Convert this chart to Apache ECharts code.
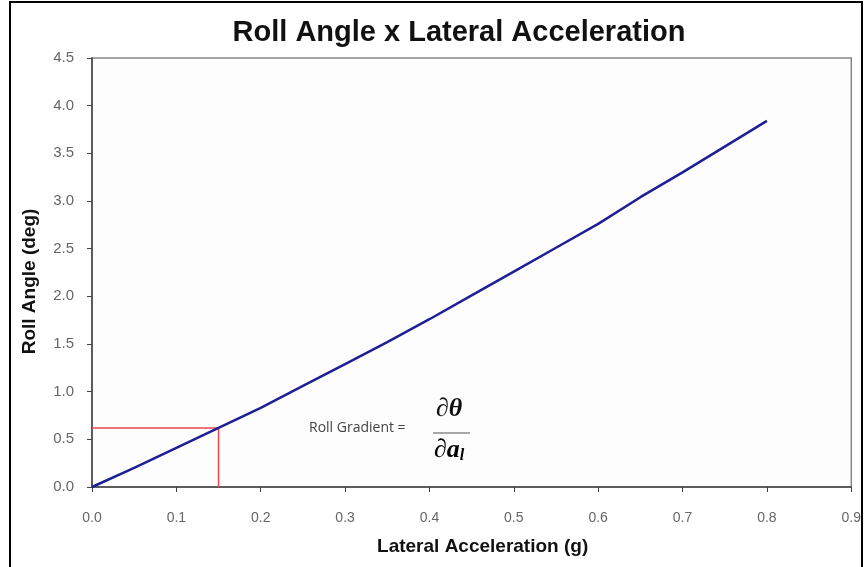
<!DOCTYPE html>
<html><head><meta charset="utf-8">
<script src="https://cdn.jsdelivr.net/npm/echarts@6/dist/echarts.min.js"></script>
<style>html,body{margin:0;padding:0;background:#fff}#c{width:864px;height:567px}</style>
</head><body><div id="c"></div>
<script>
const accel = [0,0.05,0.10,0.15,0.20,0.25,0.30,0.35,0.40,0.45,0.50,0.55,0.60,0.65,0.70,0.75,0.80];
const roll  = [0,0.20,0.41,0.62,0.83,1.06,1.29,1.52,1.76,2.01,2.26,2.51,2.76,3.04,3.30,3.57,3.84];
const guideX = [0,0.15,0.15];
const guideY = [0.62,0.62,0];
const xTicks = ['0.0','0.1','0.2','0.3','0.4','0.5','0.6','0.7','0.8','0.9'];
const yTicks = ['0.0','0.5','1.0','1.5','2.0','2.5','3.0','3.5','4.0','4.5'];

const chart = echarts.init(document.getElementById('c'));
const font = 'Liberation Sans, Arial, sans-serif';
chart.setOption({
  animation:false,
  backgroundColor:'#fff',
  title:{text:'Roll Angle x Lateral Acceleration',left:454,top:13,textAlign:'center',
    textStyle:{fontFamily:font,fontWeight:'bold',fontSize:29,color:'#111'}},
  grid:{left:92,right:12,top:58,bottom:80,show:true,borderColor:'#888',borderWidth:1.5,backgroundColor:'#fdfdfd'},
  xAxis:{type:'value',min:0,max:0.9,interval:0.1,
    name:'Lateral Acceleration (g)',nameLocation:'middle',nameGap:50,
    nameTextStyle:{fontFamily:font,fontWeight:'bold',fontSize:19,color:'#111',padding:[0,0,0,22]},
    axisLine:{lineStyle:{color:'#444',width:1.5}},
    axisTick:{show:true,length:5,lineStyle:{color:'#444'}},
    axisLabel:{margin:24,fontFamily:font,fontSize:14,color:'#666',formatter:(v)=>xTicks[Math.round(v*10)]},
    splitLine:{show:false}},
  yAxis:{type:'value',min:0,max:4.5,interval:0.5,
    name:'Roll Angle (deg)',nameLocation:'middle',nameGap:53,
    nameTextStyle:{fontFamily:font,fontWeight:'bold',fontSize:19,color:'#111',padding:[0,18,0,0]},
    axisLine:{show:true,lineStyle:{color:'#444',width:1.5}},
    axisTick:{show:true,length:5,lineStyle:{color:'#444'}},
    axisLabel:{margin:18,fontFamily:font,fontSize:15,color:'#666',formatter:(v)=>yTicks[Math.round(v*2)]},
    splitLine:{show:false}},
  series:[
    {type:'line',data:guideX.map((x,i)=>[x,guideY[i]]),symbol:'none',
      lineStyle:{color:'#e5484d',width:1.5},z:2},
    {type:'line',data:accel.map((x,i)=>[x,roll[i]]),symbol:'none',
      lineStyle:{color:'#1f1f95',width:2.5},z:3}
  ],
  graphic:[
    {type:'rect',shape:{x:10,y:2,width:852,height:580},style:{fill:'none',stroke:'#000',lineWidth:2},silent:true},
    {type:'text',left:309,top:421,style:{text:'Roll Gradient =',font:'14px "Open Sans", sans-serif',fill:'#444'}},
    {type:'text',left:436,top:396,style:{text:'∂θ',font:'italic bold 26px "Liberation Serif", serif',fill:'#111'}},
    {type:'line',shape:{x1:433,y1:433,x2:470,y2:433},style:{stroke:'#555',lineWidth:1.2}},
    {type:'text',left:434,top:437,style:{
      text:'{a|∂a}{s|l}',
      rich:{a:{font:'italic bold 26px "Liberation Serif", serif',color:'#111'},
            s:{font:'italic bold 16px "Liberation Serif", serif',color:'#111',padding:[12,0,0,0]}}}}
  ]
});
</script></body></html>
